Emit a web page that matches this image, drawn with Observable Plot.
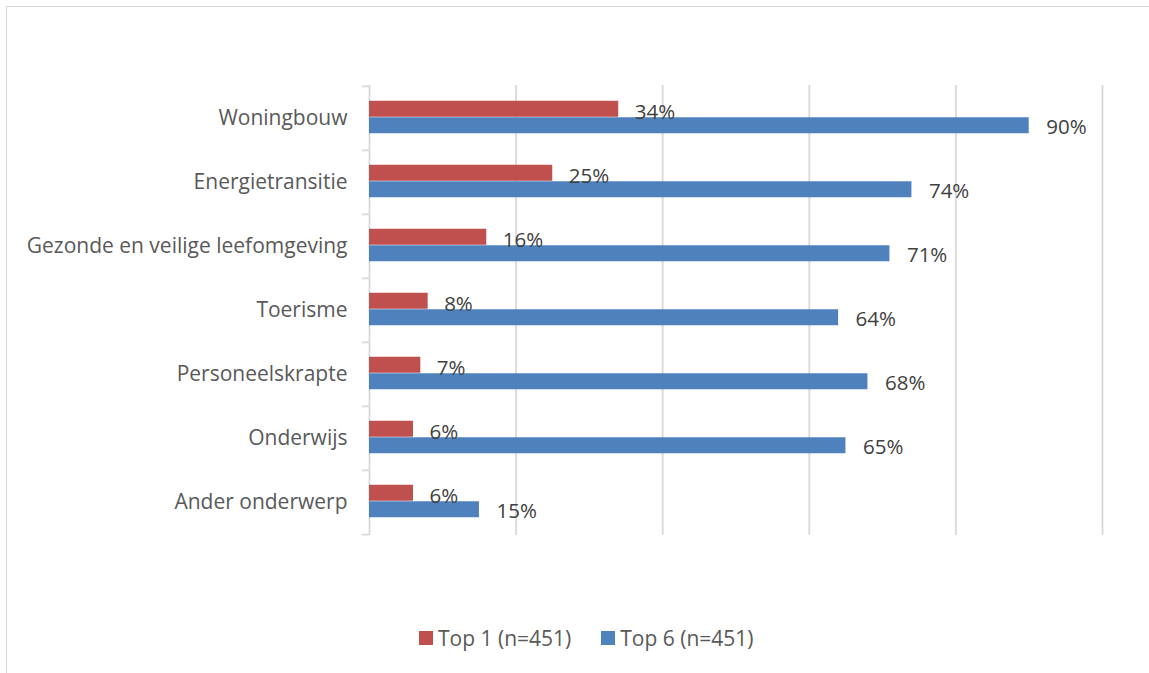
<!DOCTYPE html>
<html>
<head>
<meta charset="utf-8">
<script src="https://cdn.jsdelivr.net/npm/d3@7"></script>
<script src="https://cdn.jsdelivr.net/npm/@observablehq/plot@0.6"></script>
<style>
  body { margin: 0; background: #fff; }
  #wrap { position: relative; width: 1149px; height: 673px; overflow: hidden; font-family: "Open Sans", sans-serif; }
  #border { position: absolute; left: 6px; top: 6px; width: 1200px; height: 700px; border: 1px solid #d9d9d9; }
  #chart { position: absolute; left: 0; top: 0; }
  #legend { position: absolute; top: 624px; left: 419px; display: flex; gap: 30px; font-size: 21px; color: #595959; }
  .item { display: flex; align-items: center; gap: 5px; }
  .sw { width: 14px; height: 14px; display: inline-block; }
</style>
</head>
<body>
<div id="wrap">
  <div id="border"></div>
  <div id="chart"></div>
  <div id="legend"></div>
</div>
<script>
const categories = ["Woningbouw", "Energietransitie", "Gezonde en veilige leefomgeving", "Toerisme", "Personeelskrapte", "Onderwijs", "Ander onderwerp"];
const top1 = [34, 25, 16, 8, 7, 6, 6];
const top6 = [90, 74, 71, 64, 68, 65, 15];
const seriesNames = ["Top 1 (n=451)", "Top 6 (n=451)"];
const colors = ["#c0504d", "#4f81bd"];
const gridTicks = [0, 20, 40, 60, 80, 100];

const d1 = categories.map((c, i) => ({cat: c, value: top1[i]}));
const d6 = categories.map((c, i) => ({cat: c, value: top6[i]}));

const H = 600, mt = 85, mb = 65;
const step = (H - mt - mb) / categories.length;
const barH = 16.5;
const pInner = 1 - barH / step;

const plot = Plot.plot({
  width: 1149,
  height: H,
  marginTop: mt,
  marginBottom: mb,
  marginLeft: 369,
  marginRight: 47,
  style: {fontFamily: "Open Sans, sans-serif", fontSize: "21px", color: "#595959", background: "transparent"},
  x: {domain: [0, 100], axis: null},
  y: {domain: categories, paddingInner: pInner, paddingOuter: pInner / 2, tickSize: 0, tickPadding: 22, label: null},
  marks: [
    Plot.ruleX(gridTicks, {stroke: "#d9d9d9", strokeWidth: 1.8}),
    Plot.ruleY(categories, {y: d => d, dy: -step / 2, x1: -1, x2: 0, stroke: "#d9d9d9", strokeWidth: 1.8}),
    Plot.ruleY(categories.slice(-1), {y: d => d, dy: step / 2, x1: -1, x2: 0, stroke: "#d9d9d9", strokeWidth: 1.8}),
    Plot.barX(d1, {x: "value", y: "cat", fill: colors[0], dy: -barH / 2 - 1}),
    Plot.barX(d6, {x: "value", y: "cat", fill: colors[1], dy: barH / 2 - 1}),
    Plot.text(d1, {x: "value", y: "cat", text: d => d.value + "%", dx: 16, dy: -6, textAnchor: "start", fill: "#404040", fontSize: 20.5}),
    Plot.text(d6, {x: "value", y: "cat", text: d => d.value + "%", dx: 17, dy: 9, textAnchor: "start", fill: "#404040", fontSize: 20.5})
  ]
});
document.getElementById("chart").appendChild(plot);

const legend = document.getElementById("legend");
seriesNames.forEach((n, i) => {
  const it = document.createElement("div");
  it.className = "item";
  it.innerHTML = `<span class="sw" style="background:${colors[i]}"></span><span>${n}</span>`;
  legend.appendChild(it);
});
</script>
</body>
</html>
